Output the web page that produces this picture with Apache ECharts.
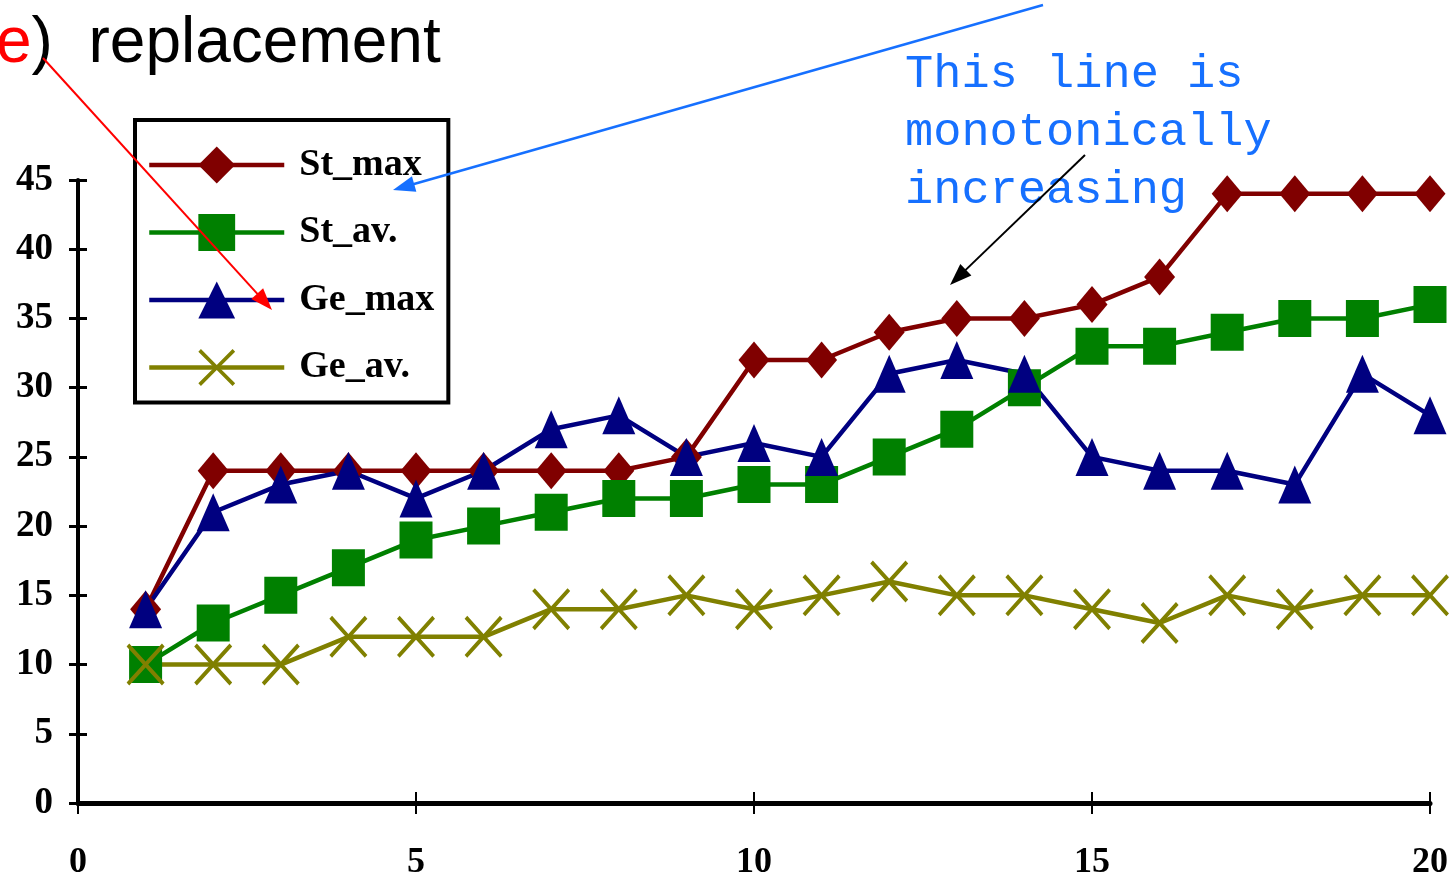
<!DOCTYPE html>
<html>
<head>
<meta charset="utf-8">
<script src="https://cdn.jsdelivr.net/npm/echarts@6/dist/echarts.min.js"></script>
<style>
html,body{margin:0;padding:0;background:#fff;}
#chart{width:1456px;height:883px;}
</style>
</head>
<body>
<div id="chart"></div>
<script>
// generations 1..20
var xs = [1,2,3,4,5,6,7,8,9,10,11,12,13,14,15,16,17,18,19,20];
var stMax = [14,24,24,24,24,24,24,24,25,32,32,34,35,35,36,38,44,44,44,44];
var stAv  = [10,13,15,17,19,20,21,22,22,23,23,25,27,30,33,33,34,35,35,36];
var geMax = [14,21,23,24,22,24,27,28,25,26,25,31,32,31,25,24,24,23,31,28];
var geAv  = [10,10,10,12,12,12,14,14,15,14,15,16,15,15,14,13,15,14,15,15];
var seriesNames = ['St_max','St_av.','Ge_max','Ge_av.'];

var serif = 'Liberation Serif';
var crossPath = 'path://M0,7L7,0L50,43L93,0L100,7L57,50L100,93L93,100L50,57L7,100L0,93L43,50Z';

function pairs(vals){
	var out = [];
	for(var i=0;i<xs.length;i++){
		out.push([xs[i], vals[i]]);
	}
	return out;
}

function mkSeries(name, vals, color, symbol, size){
	return {
		name:name,
		type:'line',
		data:pairs(vals),
		symbol:symbol,
		symbolSize:size,
		showAllSymbol:true,
		animation:false,
		lineStyle:{color:color,width:4.5},
		itemStyle:{color:color},
		emphasis:{disabled:true}
	};
}

// arrow made from a line and a small head
function arrow(x1,y1,x2,y2,color,w,len,half){
	var dx = x2-x1, dy = y2-y1;
	var d = Math.sqrt(dx*dx+dy*dy);
	var ux = dx/d, uy = dy/d;
	var bx = x2-ux*len, by = y2-uy*len;
	return [
		{type:'line',z:100,silent:true,
			shape:{x1:x1,y1:y1,x2:bx+ux*2,y2:by+uy*2},
			style:{stroke:color,lineWidth:w}},
		{type:'polygon',z:100,silent:true,
			shape:{points:[[x2,y2],[bx-uy*half,by+ux*half],[bx+uy*half,by-ux*half]]},
			style:{fill:color}}
	];
}

var chart = echarts.init(document.getElementById('chart'));

var graphics = [
	{type:'text',left:-4,top:12,z:100,silent:true,
		style:{
			text:'{r|e}{k|)  replacement}',
			rich:{
				r:{fill:'#ff0000',fontFamily:'Liberation Sans',fontSize:64},
				k:{fill:'#000',fontFamily:'Liberation Sans',fontSize:64}
			}
		}},
	{type:'text',left:905,top:46,z:100,silent:true,
		style:{
			text:'This line is\nmonotonically\nincreasing',
			fill:'#1670ff',
			fontFamily:'Liberation Mono',
			fontSize:47,
			lineHeight:58
		}}
];
graphics = graphics.concat(
	arrow(1043,5,393,190,'#1670ff',2.5,22,8),
	arrow(43,58,272,310,'#ff0000',2,22,8),
	arrow(1085,155,950,285,'#000',2,22,8)
);

var option = {
	backgroundColor:'#fff',
	animation:false,
	grid:{left:78,right:26,top:180,bottom:80},
	legend:{
		orient:'vertical',
		left:135,
		top:120,
		padding:[26,14,16,12],
		borderColor:'#000',
		borderWidth:4,
		itemWidth:135,
		itemHeight:46,
		itemGap:29.5,
		selectedMode:false,
		data:seriesNames,
		lineStyle:{width:4.5},
		textStyle:{
			fontFamily:serif,
			fontWeight:'bold',
			fontSize:38,
			color:'#000',
			padding:[0,0,0,10]
		}
	},
	xAxis:[{
		type:'value',
		min:0,max:20,interval:5,
		splitLine:{show:false},
		axisLine:{lineStyle:{color:'#000',width:5}},
		axisTick:{length:11,lineStyle:{color:'#000',width:2}},
		axisLabel:{
			margin:42,
			fontFamily:serif,
			fontWeight:'bold',
			fontSize:36,
			color:'#000'
		}
	},{
		type:'value',
		position:'bottom',
		min:0,max:20,interval:5,
		splitLine:{show:false},
		axisLine:{show:false},
		axisTick:{inside:true,length:11,lineStyle:{color:'#000',width:2}},
		axisLabel:{show:false}
	}],
	yAxis:[{
		type:'value',
		min:0,max:45,interval:5,
		splitLine:{show:false},
		axisLine:{lineStyle:{color:'#000',width:4}},
		axisTick:{length:9,lineStyle:{color:'#000',width:3}},
		axisLabel:{
			margin:25,
			fontFamily:serif,
			fontWeight:'bold',
			fontSize:37,
			color:'#000'
		}
	},{
		type:'value',
		position:'left',
		min:0,max:45,interval:5,
		splitLine:{show:false},
		axisLine:{show:false},
		axisTick:{inside:true,length:9,lineStyle:{color:'#000',width:3}},
		axisLabel:{show:false}
	}],
	graphic:graphics,
	series:[
		mkSeries('St_max',stMax,'#800000','diamond',[31,37]),
		mkSeries('St_av.',stAv,'#008000','rect',[33,37]),
		mkSeries('Ge_max',geMax,'#000080','triangle',[33,38]),
		mkSeries('Ge_av.',geAv,'#808000',crossPath,[38,42])
	]
};

chart.setOption(option);
</script>
</body>
</html>
